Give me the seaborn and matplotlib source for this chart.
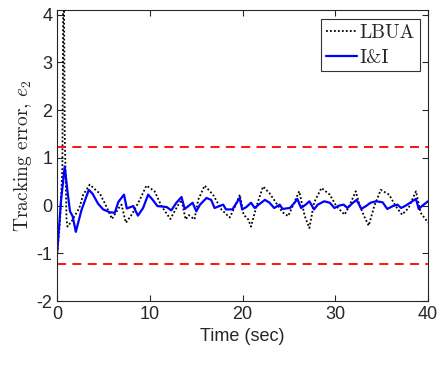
import numpy as np
import pandas as pd
import seaborn as sns
import matplotlib
matplotlib.use("Agg")
import matplotlib.pyplot as plt

# I&I (blue solid)
ii_t = [0, 0.4, 0.8, 1.1, 1.37, 1.65, 2.0, 2.6, 3.4, 3.8, 4.4, 4.95, 5.67, 6.2, 6.6, 7.2, 7.5, 8.2, 8.7,
        9.26, 9.8, 10.3, 10.8, 11.8, 12.3, 12.85, 13.4, 13.75, 14.6, 15.0, 15.4, 16.1, 16.6, 16.97, 17.9,
        18.2, 18.9, 19.67, 19.95, 20.4, 20.9, 21.3, 21.6, 22.4, 22.9, 23.4, 24.0, 24.3, 25.1, 25.6, 25.9,
        26.3, 26.8, 27.2, 27.7, 28.1, 28.8, 29.4, 29.9, 30.4, 30.9, 31.3, 31.9, 32.3, 32.8, 33.3, 33.8,
        34.4, 35.1, 35.6, 36.2, 36.7, 37.1, 37.6, 38.3, 38.7, 39.0, 39.4, 40]
ii_e = [-0.95, 0.1, 0.82, 0.3, -0.12, -0.22, -0.55, -0.1, 0.33, 0.25, 0.04, -0.08, -0.14, -0.15, 0.08, 0.23,
        -0.06, -0.01, -0.21, -0.05, 0.23, 0.12, -0.01, -0.03, -0.1, 0.06, 0.18, -0.07, 0.06, -0.12, 0.02,
        0.16, 0.12, -0.05, 0.02, -0.08, -0.08, 0.16, -0.08, -0.03, 0.06, -0.05, 0.0, 0.12, 0.06, -0.05,
        0.02, -0.07, -0.05, 0.06, 0.14, -0.05, 0.02, 0.09, -0.08, 0.02, 0.09, 0.06, -0.05, 0.0, 0.02,
        -0.05, 0.06, 0.12, -0.07, -0.01, 0.06, 0.09, 0.07, -0.07, -0.01, 0.02, -0.05, 0.0, 0.09, 0.14,
        -0.07, 0.0, 0.09]

# LBUA (black dotted)
lb_t = [0, 0.3, 0.55, 0.68, 0.8, 1.0, 1.1, 1.55, 2.37, 2.8, 3.5, 4.6, 5.2, 5.9, 6.6, 6.93, 7.4, 8.1, 8.9,
        9.62, 10.5, 11.24, 12.2, 13.0, 13.4, 13.85, 14.2, 14.8, 15.2, 15.9, 16.8, 17.7, 18.6, 19.2, 19.7,
        20.1, 20.6, 20.9, 21.5, 22.2, 22.9, 23.6, 24.3, 24.9, 25.4, 26.1, 26.7, 27.2, 27.7, 28.5, 29.4,
        30.1, 31.0, 31.5, 32.2, 32.6, 33.1, 33.6, 34.2, 34.9, 35.8, 36.5, 37.2, 37.9, 38.7, 39.2, 39.9, 40]
lb_e = [-1, -0.3, 0.8, 6.0, 1.5, -0.3, -0.44, -0.33, -0.05, 0.23, 0.44, 0.25, 0.02, -0.28, -0.06, 0.02,
        -0.36, -0.17, 0.12, 0.42, 0.3, -0.01, -0.28, 0.0, 0.12, -0.29, -0.2, -0.29, 0.12, 0.42, 0.23,
        -0.08, -0.25, -0.01, 0.23, -0.19, -0.29, -0.44, -0.01, 0.4, 0.26, 0.06, -0.14, -0.22, -0.01,
        0.3, -0.22, -0.47, 0.06, 0.37, 0.23, -0.01, -0.19, -0.01, 0.3, 0.02, -0.22, -0.42, -0.01, 0.33,
        0.23, -0.01, -0.19, -0.05, 0.3, -0.15, -0.33, -0.36]

bounds = [1.23, -1.23]
x_ticks = [0, 10, 20, 30, 40]
y_ticks = [-2, -1, 0, 1, 2, 3, 4]
labels = ["LBUA", "I&I"]

sns.set_style("ticks")
plt.rcParams['font.family'] = ['Liberation Sans', 'DejaVu Sans']
plt.rcParams['mathtext.fontset'] = 'cm'
plt.rcParams['xtick.direction'] = 'in'
plt.rcParams['ytick.direction'] = 'in'

fig = plt.figure(figsize=(4.39, 3.65), dpi=100)
ax = fig.add_axes([0.1305, 0.1753, 0.975 - 0.1305, 0.9726 - 0.1753])

df_lb = pd.DataFrame({"t": lb_t, "e": lb_e})
df_ii = pd.DataFrame({"t": ii_t, "e": ii_e})

sns.lineplot(data=df_lb, x="t", y="e", ax=ax, color="black", linestyle=(0, (1, 1.2)),
             linewidth=1.3, sort=False, estimator=None, label=labels[0])
sns.lineplot(data=df_ii, x="t", y="e", ax=ax, color="#0000ff", linewidth=1.6,
             sort=False, estimator=None, label=labels[1])
for b in bounds:
    ax.axhline(b, color="#ff0000", linestyle=(0, (5, 3.5)), linewidth=1.3)

ax.set_xlim(0, 40)
ax.set_ylim(-2, 4.1)
ax.set_xticks(x_ticks)
ax.set_yticks(y_ticks)
ax.set_xticklabels([str(v) for v in x_ticks])
ax.set_yticklabels([str(v) for v in y_ticks])
ax.tick_params(axis='both', labelsize=13, colors="#262626", length=4, width=0.8,
               top=True, right=True, labelcolor="#262626")
for s in ax.spines.values():
    s.set_visible(True)
    s.set_color("#262626")
    s.set_linewidth(0.8)

ax.set_xlabel("Time (sec)", fontsize=13, color="#262626")
ax.set_ylabel(r"Tracking error, $e_2$", fontsize=14, color="#262626", labelpad=2,
              fontfamily="cmr10")

leg = ax.legend(loc="upper right", bbox_to_anchor=(0.978, 0.969), borderaxespad=0,
                prop={"family": "cmr10", "size": 14}, frameon=True,
                fancybox=False, framealpha=1, edgecolor="#333333", borderpad=0.25,
                handlelength=1.6, handletextpad=0.12, labelspacing=0.35)
leg.get_frame().set_linewidth(0.8)

fig.savefig("out.png", dpi=100)
